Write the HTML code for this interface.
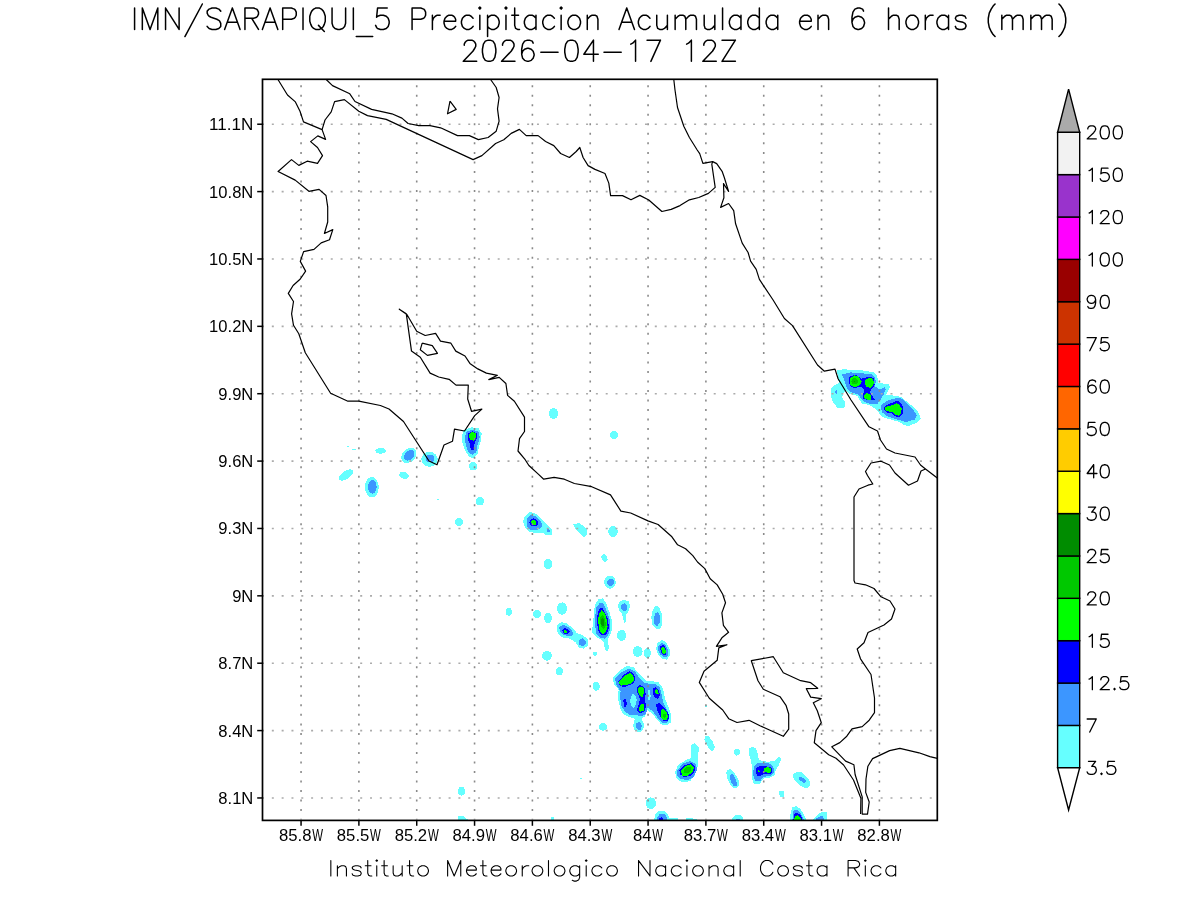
<!DOCTYPE html><html><head><meta charset="utf-8"><style>html,body{margin:0;padding:0;background:#fff;width:1200px;height:900px;overflow:hidden}svg{display:block;will-change:transform}</style></head><body>
<svg width="1200" height="900" viewBox="0 0 1200 900">
<rect width="1200" height="900" fill="#fff"/>
<defs><clipPath id="mc"><rect x="262.5" y="79.3" width="674.8" height="741.1"/></clipPath></defs>
<g clip-path="url(#mc)" shape-rendering="crispEdges">
<polygon fill="#66ffff" points="837.1,369.9 845.0,369.3 853.3,370.3 861.7,370.3 874.2,372.4 877.1,375.3 878.3,382.8 883.3,383.5 888.3,384.1 890.0,387.0 888.3,390.8 886.2,394.9 895.8,395.8 901.7,397.0 906.2,401.2 912.5,406.2 918.3,412.0 920.8,418.7 917.5,422.4 908.3,426.2 903.3,424.5 898.3,421.6 890.8,419.5 883.3,417.4 879.2,413.2 875.0,408.7 870.0,405.2 862.5,403.7 859.2,399.9 857.5,395.8 850.0,394.1 845.8,390.8 842.9,393.7 842.1,397.8 845.4,402.0 845.4,406.2 843.3,407.8 837.5,407.8 833.3,402.8 831.2,397.0 831.2,388.7 834.2,385.3 838.8,382.8 837.9,378.7"/>
<polygon fill="#3c96ff" points="842.1,374.5 850.0,372.4 858.3,372.8 871.7,374.5 875.0,377.4 875.8,382.0 875.0,386.2 880.0,389.5 885.0,387.0 885.8,389.5 883.3,395.3 880.0,400.3 877.5,403.7 871.7,404.5 864.2,402.0 860.4,397.8 858.3,394.5 850.0,392.0 846.7,387.8 844.2,380.3"/>
<polygon fill="#3c96ff" points="881.7,404.5 888.3,400.3 897.5,397.8 901.7,398.7 906.7,403.7 913.3,409.5 916.7,415.3 915.0,419.5 905.8,422.0 897.5,419.5 887.5,416.2 882.5,412.8 880.8,408.7"/>
<ellipse fill="#3c96ff" cx="836.2" cy="391.8" rx="0.8" ry="2.0"/>
<polygon fill="#0000ff" points="849.2,377.0 855.0,374.5 861.7,378.7 865.0,377.8 870.8,376.6 874.2,378.7 874.6,385.3 871.2,389.5 870.0,392.0 871.7,395.3 875.0,399.9 868.3,400.3 863.3,398.7 863.3,393.7 864.2,389.5 861.7,387.0 858.3,387.0 854.6,388.2 850.0,386.2 848.8,381.2"/>
<polygon fill="#0000ff" points="884.6,406.2 890.8,403.2 897.1,400.8 900.4,402.4 902.9,407.0 903.3,413.2 900.4,416.6 895.8,416.6 891.7,413.2 886.7,412.4 884.0,409.5"/>
<polygon fill="#00ff00" points="850.0,378.7 854.2,375.3 858.3,376.6 861.7,381.2 860.0,385.3 854.6,387.4 850.8,385.3 849.6,382.0"/>
<polygon fill="#00ff00" points="865.4,380.3 868.3,378.2 871.7,378.2 873.8,381.2 873.3,385.3 870.4,387.8 866.7,387.0 865.0,383.7"/>
<polygon fill="#00ff00" points="864.2,395.3 866.7,393.2 870.0,394.1 871.2,397.0 870.8,399.9 867.1,399.9 864.3,397.8"/>
<polygon fill="#00ff00" points="885.4,407.0 891.7,405.3 896.7,403.2 899.2,404.5 901.7,408.7 901.2,413.7 898.3,415.8 895.0,414.5 892.5,412.0 886.7,411.2 885.0,409.1"/>
<ellipse fill="#00cc00" cx="854.6" cy="381.3" rx="3.2" ry="3.0"/>
<ellipse fill="#009900" cx="854.3" cy="381.3" rx="0.8" ry="0.8"/>
<ellipse fill="#66ffff" cx="347.9" cy="446.2" rx="0.9" ry="0.5"/>
<ellipse fill="#66ffff" cx="354.0" cy="449.3" rx="2.0" ry="0.6"/>
<ellipse fill="#66ffff" cx="380.6" cy="450.8" rx="5.2" ry="2.9"/>
<ellipse fill="#66ffff" cx="408.9" cy="455.4" rx="8.6" ry="6.6" transform="rotate(-45 408.9 455.4)"/>
<ellipse fill="#3c96ff" cx="409.2" cy="455.2" rx="6.2" ry="4.3" transform="rotate(-45 409.2 455.2)"/>
<ellipse fill="#66ffff" cx="429.5" cy="459.3" rx="8.2" ry="7.4"/>
<ellipse fill="#3c96ff" cx="429.9" cy="458.6" rx="4.2" ry="3.9"/>
<ellipse fill="#66ffff" cx="346.0" cy="475.0" rx="8.2" ry="3.9" transform="rotate(-34 346.0 475.0)"/>
<ellipse fill="#66ffff" cx="371.9" cy="487.2" rx="6.9" ry="10.2"/>
<ellipse fill="#3c96ff" cx="372.4" cy="486.8" rx="4.25" ry="6.9"/>
<ellipse fill="#66ffff" cx="403.9" cy="475.4" rx="4.8" ry="3.3" transform="rotate(15 403.9 475.4)"/>
<ellipse fill="#66ffff" cx="404.0" cy="475.5" rx="1" ry="1"/>
<polygon fill="#66ffff" points="464.0,430.4 471.3,427.3 478.6,428.5 481.7,433.4 481.1,439.5 478.6,448.1 477.4,454.2 473.7,458.5 468.8,456.6 465.2,450.5 462.7,444.4 461.5,435.9"/>
<polygon fill="#3c96ff" points="466.4,431.6 472.5,429.8 478.6,431.6 479.8,437.1 477.4,445.6 476.2,452.4 472.5,454.8 468.8,453.0 466.4,446.9 464.6,438.3"/>
<polygon fill="#0000ff" points="468.2,433.4 472.5,431.2 476.8,433.4 476.8,438.3 474.3,444.4 473.7,449.9 470.7,449.9 470.1,444.4 467.6,439.5"/>
<polygon fill="#00ff00" points="468.8,434.0 472.5,431.8 475.9,433.4 476.2,437.1 473.7,441.0 470.3,439.5 468.6,437.1"/>
<ellipse fill="#66ffff" cx="473.1" cy="466.2" rx="4.3" ry="4.3"/>
<ellipse fill="#66ffff" cx="479.8" cy="501.2" rx="4.0" ry="4.2"/>
<ellipse fill="#66ffff" cx="458.8" cy="522.0" rx="4.0" ry="4.3"/>
<ellipse fill="#66ffff" cx="438.0" cy="499.4" rx="0.8" ry="0.5"/>
<ellipse fill="#66ffff" cx="553.5" cy="413.5" rx="4.5" ry="5.5"/>
<ellipse fill="#66ffff" cx="614.0" cy="435.0" rx="4.0" ry="4.0"/>
<polygon fill="#66ffff" points="525.0,516.0 530.0,512.0 536.0,514.0 541.0,518.5 545.0,523.0 550.0,527.0 552.5,531.0 551.5,535.0 547.0,535.5 542.0,532.5 535.0,533.0 530.0,532.0 525.0,528.0 523.0,521.0"/>
<polygon fill="#3c96ff" points="526.5,519.0 530.0,515.0 535.0,516.0 540.0,520.0 542.5,525.0 540.0,529.0 535.0,530.5 530.0,530.0 527.0,526.0"/>
<polygon fill="#3c96ff" points="546.5,529.0 548.5,528.5 550.0,531.5 546.5,531.8"/>
<polygon fill="#0000ff" points="530.0,520.0 533.5,518.0 537.0,520.0 538.5,523.5 536.0,526.0 533.0,526.5 530.5,525.0 529.5,522.5"/>
<polygon fill="#00ff00" points="531.0,521.0 533.5,519.5 536.0,521.0 536.2,524.0 534.5,525.5 532.0,524.5"/>
<polygon fill="#66ffff" points="573.5,524.5 579.0,523.0 584.0,526.0 587.0,530.0 586.5,535.0 584.0,537.0 579.0,533.0 575.0,528.0"/>
<ellipse fill="#66ffff" cx="613.0" cy="531.5" rx="4.7" ry="5.5"/>
<ellipse fill="#66ffff" cx="548.0" cy="564.0" rx="4.4" ry="5.0"/>
<ellipse fill="#66ffff" cx="604.5" cy="558.0" rx="2.8" ry="4.0" transform="rotate(-20 604.5 558.0)"/>
<ellipse fill="#66ffff" cx="610.0" cy="582.3" rx="5.8" ry="6.5"/>
<ellipse fill="#3c96ff" cx="610.6" cy="582.4" rx="3.5" ry="3.4"/>
<ellipse fill="#66ffff" cx="537.0" cy="613.9" rx="4.0" ry="4.0"/>
<ellipse fill="#66ffff" cx="548.0" cy="617.9" rx="4.0" ry="5.0"/>
<ellipse fill="#66ffff" cx="562.1" cy="608.6" rx="5.0" ry="6.2"/>
<polygon fill="#66ffff" points="557.4,624.7 561.5,622.3 566.2,622.9 572.0,627.6 576.7,632.8 583.7,635.8 588.3,639.8 588.3,645.7 583.7,648.6 579.0,647.4 575.5,642.2 569.7,638.7 562.7,637.5 558.0,634.0 556.6,628.8"/>
<polygon fill="#3c96ff" points="559.2,627.0 563.8,624.7 568.5,627.0 572.6,631.7 573.2,635.2 568.5,636.3 563.3,634.6 559.8,631.7"/>
<polygon fill="#3c96ff" points="579.0,639.8 582.5,638.1 585.4,640.4 586.0,643.9 583.1,646.3 579.6,645.1 578.8,642.2"/>
<polygon fill="#0000ff" points="562.1,629.9 564.4,627.9 567.3,628.8 569.7,631.7 567.3,634.6 563.8,634.0"/>
<polygon fill="#00ff00" points="563.8,630.5 565.6,629.6 567.6,631.7 565.6,633.4 564.1,632.3"/>
<polygon fill="#66ffff" points="594.8,604.8 598.8,599.0 602.9,598.4 605.8,602.5 609.3,611.8 611.7,620.0 612.3,628.2 610.5,634.0 608.2,638.7 607.6,642.2 609.3,648.0 607.0,652.1 604.7,649.2 604.1,642.2 601.2,639.8 595.3,636.3 591.8,631.7 593.0,623.5 593.9,614.2"/>
<polygon fill="#3c96ff" points="595.9,608.3 600.0,602.5 603.5,603.7 607.0,611.8 609.9,620.0 610.5,628.2 608.2,635.2 604.7,638.7 600.0,637.5 596.5,634.0 595.1,625.8 595.3,616.5"/>
<polygon fill="#0000ff" points="597.7,613.0 600.0,608.3 602.9,608.3 605.8,614.2 608.2,620.0 608.8,628.2 607.0,634.0 603.5,635.2 600.0,634.0 597.7,629.3 597.1,620.0"/>
<polygon fill="#00ff00" points="598.8,614.2 601.8,610.1 604.7,613.0 607.0,620.0 607.6,627.0 605.8,631.7 602.9,634.0 600.0,631.7 598.6,625.8 598.3,618.8"/>
<polygon fill="#00cc00" points="600.6,616.5 602.9,614.8 605.3,620.0 605.8,625.8 603.5,629.3 601.2,627.0 600.0,622.3"/>
<ellipse fill="#009900" cx="602.6" cy="622.3" rx="1.5" ry="4"/>
<polygon fill="#66ffff" points="618.7,602.5 623.3,599.9 628.6,601.3 630.3,606.6 628.0,611.8 625.7,615.3 626.3,621.2 624.5,622.9 623.3,620.0 622.2,614.2 619.8,611.3 618.1,607.2"/>
<polygon fill="#3c96ff" points="621.0,604.8 624.5,603.1 627.4,605.4 627.4,608.9 625.7,611.3 623.3,611.3 621.0,608.9"/>
<ellipse fill="#66ffff" cx="621.6" cy="635.4" rx="4.7" ry="5.4"/>
<polygon fill="#66ffff" points="653.7,608.3 656.0,605.4 659.5,607.8 661.8,614.2 662.4,623.5 660.1,628.8 656.6,628.8 652.5,624.7 651.3,617.7 651.9,611.8"/>
<polygon fill="#3c96ff" points="654.8,613.6 657.8,611.8 659.5,615.3 659.7,622.3 657.8,625.8 654.8,625.3 653.9,620.0"/>
<polygon fill="#66ffff" points="657.2,643.3 661.8,639.8 665.9,642.2 669.4,648.0 670.0,655.0 667.1,659.7 663.0,659.1 658.3,655.0 656.0,649.2"/>
<polygon fill="#3c96ff" points="658.3,645.7 661.8,642.8 665.3,644.5 668.3,650.3 667.7,656.2 664.2,657.3 660.1,654.4 657.8,649.8"/>
<polygon fill="#0000ff" points="660.1,646.8 662.4,644.7 665.3,646.8 666.5,651.5 665.3,655.6 663.0,655.0 660.7,651.5"/>
<polygon fill="#00ff00" points="661.3,648.6 663.0,646.8 665.3,648.6 665.9,652.7 664.2,654.4 661.8,652.7"/>
<ellipse fill="#66ffff" cx="637.6" cy="651.5" rx="5.0" ry="5.3"/>
<ellipse fill="#66ffff" cx="647.3" cy="653.0" rx="3.5" ry="5.0"/>
<ellipse fill="#66ffff" cx="547.0" cy="655.8" rx="4.8" ry="5.0"/>
<ellipse fill="#66ffff" cx="595.0" cy="653.8" rx="2.0" ry="2.0"/>
<polygon fill="#66ffff" points="612.5,677.5 620.0,670.0 627.5,665.6 633.8,667.5 640.0,675.0 646.2,681.2 652.5,681.2 658.8,682.5 663.1,688.8 665.0,698.8 668.8,707.5 671.2,715.0 670.6,722.5 666.2,725.6 661.2,724.4 657.5,720.0 652.5,713.8 647.5,710.0 645.0,716.2 641.2,718.8 644.4,725.0 643.1,730.0 638.8,732.5 634.4,730.0 633.1,725.0 635.0,718.8 628.8,716.9 623.1,713.8 620.0,707.5 617.5,696.2 618.8,690.0 613.8,683.8"/>
<polygon fill="#3c96ff" points="615.0,678.8 621.2,672.5 628.8,668.8 635.0,671.2 638.8,677.5 643.8,682.5 648.8,683.8 655.0,683.8 660.0,687.5 661.9,696.2 663.8,703.8 667.5,711.2 669.4,717.5 667.5,722.5 662.5,723.1 657.5,717.5 652.5,711.2 647.5,707.5 646.2,713.8 641.2,716.2 636.2,715.0 630.0,715.0 624.4,711.2 621.2,705.0 620.0,696.2 620.6,691.2 616.2,685.0"/>
<polygon fill="#66ffff" points="632.5,693.8 635.0,695.0 636.9,700.0 635.6,705.0 633.8,708.8 631.2,706.2 630.0,700.0"/>
<polygon fill="#66ffff" points="647.8,690.6 650.0,690.0 650.6,696.2 650.0,700.6 647.8,700.0"/>
<polygon fill="#3c96ff" points="636.2,723.1 639.4,721.9 641.9,725.0 641.2,729.4 638.1,730.0 636.2,727.5"/>
<polygon fill="#0000ff" points="618.1,681.2 625.0,673.8 630.0,671.2 633.8,673.8 635.6,680.0 632.5,683.8 625.0,686.9 620.0,686.2"/>
<polygon fill="#0000ff" points="636.9,687.5 640.0,685.0 644.4,686.9 645.6,693.8 645.0,700.0 646.0,706.2 644.4,711.9 640.0,713.1 636.9,710.0 638.8,703.8 640.0,698.8 637.5,692.5"/>
<polygon fill="#0000ff" points="653.1,688.8 655.6,686.9 658.8,690.0 660.0,695.0 658.1,698.8 655.0,698.1 653.1,693.8"/>
<polygon fill="#0000ff" points="656.2,703.8 659.4,703.1 663.8,707.5 668.1,712.5 669.4,717.5 667.5,721.2 663.8,721.2 660.0,716.2 656.9,710.0"/>
<polygon fill="#0000ff" points="623.1,700.0 625.0,698.1 626.9,702.5 626.2,707.5 624.4,706.9"/>
<polygon fill="#00ff00" points="619.4,681.2 625.0,675.6 630.0,673.1 633.1,675.0 634.4,680.0 631.9,683.1 626.2,685.0 621.2,685.6 619.0,683.8"/>
<polygon fill="#00ff00" points="638.1,688.1 641.0,686.2 643.5,688.1 644.0,692.5 642.5,696.9 640.0,696.2 638.5,692.5"/>
<polygon fill="#00ff00" points="638.8,710.0 640.0,705.6 643.1,703.1 644.4,706.2 643.5,710.6 640.6,711.9"/>
<polygon fill="#00ff00" points="654.8,690.6 656.2,688.8 658.1,691.2 658.8,693.8 656.9,694.4 655.0,693.1"/>
<polygon fill="#00ff00" points="660.6,710.0 663.8,708.8 666.9,712.5 668.1,717.5 666.2,720.6 663.1,720.0 660.6,716.2"/>
<ellipse fill="#00cc00" cx="664.4" cy="715.6" rx="1.5" ry="2.0"/>
<ellipse fill="#66ffff" cx="559.4" cy="671.2" rx="3.5" ry="4.0"/>
<ellipse fill="#66ffff" cx="596.2" cy="686.2" rx="3.5" ry="4.5"/>
<ellipse fill="#66ffff" cx="603.1" cy="726.9" rx="4.0" ry="3.8"/>
<polygon fill="#66ffff" points="691.2,745.0 695.0,743.1 698.8,747.5 698.1,758.8 697.5,767.5 695.0,775.0 690.0,781.2 682.5,782.5 676.9,778.8 675.0,772.5 678.1,765.0 685.0,760.6 690.6,758.1 690.6,750.0"/>
<polygon fill="#3c96ff" points="677.5,770.0 682.5,763.8 690.0,761.2 696.2,763.8 696.9,770.0 693.8,776.9 687.5,780.0 680.0,778.8 676.9,775.0"/>
<polygon fill="#0000ff" points="679.4,770.0 685.0,765.0 691.2,763.1 695.0,766.2 694.4,772.5 690.0,776.2 683.8,776.9 680.0,774.4"/>
<polygon fill="#00ff00" points="680.6,770.6 685.6,766.2 690.6,764.4 693.8,767.5 692.5,772.5 687.5,775.6 682.5,775.6"/>
<ellipse fill="#00cc00" cx="687.5" cy="770.0" rx="4.0" ry="2.8" transform="rotate(-35 687.5 770.0)"/>
<polygon fill="#66ffff" points="705.0,735.6 708.1,735.6 712.5,741.2 715.0,747.5 712.5,751.2 709.4,749.4 704.4,740.0"/>
<ellipse fill="#66ffff" cx="736.9" cy="752.2" rx="3.0" ry="3.4"/>
<polygon fill="#66ffff" points="727.5,770.0 730.0,768.8 735.0,773.8 738.8,780.0 738.8,786.2 735.0,788.8 731.2,786.2 727.5,778.8 726.2,772.5"/>
<polygon fill="#3c96ff" points="730.0,775.0 732.5,773.8 736.2,780.0 736.9,785.6 733.8,786.2 730.6,781.2"/>
<polygon fill="#66ffff" points="748.8,748.8 752.5,746.5 756.2,748.8 758.1,755.0 758.8,760.0 767.5,761.9 775.0,760.6 778.8,756.9 781.2,758.8 778.8,765.0 775.6,771.2 774.4,775.0 770.0,777.5 765.0,777.5 762.5,780.0 760.0,783.8 753.8,783.8 751.9,777.5 751.9,767.5 751.2,761.2 748.8,753.8"/>
<polygon fill="#3c96ff" points="753.8,766.2 757.5,763.1 768.8,763.1 773.1,766.2 774.4,771.9 770.6,775.6 763.8,776.9 760.0,781.2 755.6,781.2 753.1,775.0"/>
<polygon fill="#0000ff" points="755.6,768.1 760.0,766.2 766.2,766.2 771.2,767.5 772.5,771.2 770.6,773.8 763.8,773.8 760.0,776.2 757.5,776.2 756.0,772.5"/>
<polygon fill="#00ff00" points="763.8,768.1 767.5,766.9 771.0,768.1 771.5,771.9 768.8,773.1 764.4,771.9"/>
<ellipse fill="#00ff00" cx="758.8" cy="771.2" rx="1.0" ry="0.8"/>
<ellipse fill="#66ffff" cx="706.2" cy="706.4" rx="1.3" ry="1.0"/>
<polygon fill="#66ffff" points="793.4,773.8 796.2,772.1 801.7,772.1 807.2,777.2 809.6,780.7 810.0,785.5 807.6,787.6 804.5,787.9 800.3,785.5 793.8,779.3 793.1,776.5"/>
<polygon fill="#3c96ff" points="798.3,777.6 801.0,776.9 804.5,778.6 805.8,780.7 805.1,783.4 803.1,782.7 798.9,779.3"/>
<polygon fill="#66ffff" points="779.3,791.4 783.8,791.0 784.5,793.8 783.8,796.9 780.3,796.9 779.0,794.5"/>
<polygon fill="#66ffff" points="792.1,807.6 796.2,806.2 799.6,808.2 803.1,813.1 806.5,820.0 790.0,820.0 790.7,812.4"/>
<polygon fill="#3c96ff" points="793.4,811.0 796.2,809.3 800.3,812.4 803.8,820.0 792.4,820.0"/>
<polygon fill="#0000ff" points="794.8,813.1 797.6,812.7 801.0,815.8 802.4,820.0 793.4,820.0 794.1,815.1"/>
<polygon fill="#00ff00" points="794.8,816.5 797.6,815.1 800.3,817.2 801.7,820.0 793.8,820.0"/>
<polygon fill="#66ffff" points="814.1,817.9 818.2,814.4 821.0,812.4 826.9,812.0 826.9,820.0 813.1,820.0"/>
<polygon fill="#3c96ff" points="816.2,818.6 819.6,816.5 822.4,816.2 824.4,820.0 815.8,820.0"/>
<ellipse fill="#66ffff" cx="650.8" cy="803.2" rx="5.25" ry="5.75"/>
<polygon fill="#66ffff" points="655.0,815.0 658.5,811.0 664.0,810.5 667.5,814.0 669.5,818.0 678.0,817.5 678.0,821.0 654.0,821.0"/>
<polygon fill="#3c96ff" points="657.0,817.5 660.0,813.5 664.5,813.5 666.5,817.0 667.0,821.0 656.5,821.0"/>
<polygon fill="#0000ff" points="659.5,818.5 661.5,817.0 663.0,818.5 663.5,821.0 659.0,821.0"/>
<polygon fill="#66ffff" points="685.0,821.0 687.0,817.5 690.0,817.8 697.0,819.5 697.0,821.0"/>
<polygon fill="#66ffff" points="732.0,819.0 736.0,814.5 740.0,814.5 743.0,818.0 743.0,821.0 731.5,821.0"/>
<polygon fill="#3c96ff" points="736.0,818.5 740.0,818.5 740.0,821.0 736.0,821.0"/>
<ellipse fill="#66ffff" cx="461.5" cy="791.2" rx="3.75" ry="4.5"/>
<polygon fill="#66ffff" points="458.0,815.7 462.5,815.7 467.7,819.5 467.7,821.0 458.0,821.0"/>
<polygon fill="#66ffff" points="551.0,816.8 554.0,816.8 554.0,821.0 551.0,821.0"/>
<ellipse fill="#66ffff" cx="581.0" cy="778.5" rx="1.2" ry="0.6"/>
<ellipse fill="#66ffff" cx="508.9" cy="611.9" rx="3.0" ry="3.9"/>
</g>
<g stroke-width="1.6" fill="none">
<line x1="301.06" y1="85.2" x2="301.06" y2="819.4" stroke-dasharray="2 7.525" stroke="#8a8a8a"/>
<line x1="358.89" y1="85.2" x2="358.89" y2="819.4" stroke-dasharray="2 7.525" stroke="#8a8a8a"/>
<line x1="416.72" y1="85.2" x2="416.72" y2="819.4" stroke-dasharray="2 7.525" stroke="#8a8a8a"/>
<line x1="474.56" y1="85.2" x2="474.56" y2="819.4" stroke-dasharray="2 7.525" stroke="#8a8a8a"/>
<line x1="532.39" y1="85.2" x2="532.39" y2="819.4" stroke-dasharray="2 7.525" stroke="#8a8a8a"/>
<line x1="590.23" y1="85.2" x2="590.23" y2="819.4" stroke-dasharray="2 7.525" stroke="#8a8a8a"/>
<line x1="648.06" y1="85.2" x2="648.06" y2="819.4" stroke-dasharray="2 7.525" stroke="#8a8a8a"/>
<line x1="705.89" y1="85.2" x2="705.89" y2="819.4" stroke-dasharray="2 7.525" stroke="#8a8a8a"/>
<line x1="763.73" y1="85.2" x2="763.73" y2="819.4" stroke-dasharray="2 7.525" stroke="#8a8a8a"/>
<line x1="821.56" y1="85.2" x2="821.56" y2="819.4" stroke-dasharray="2 7.525" stroke="#8a8a8a"/>
<line x1="879.40" y1="85.2" x2="879.40" y2="819.4" stroke-dasharray="2 7.525" stroke="#8a8a8a"/>
<line x1="262" y1="797.96" x2="936.3" y2="797.96" stroke-dasharray="2 7.82" stroke="#ababab"/>
<line x1="262" y1="730.58" x2="936.3" y2="730.58" stroke-dasharray="2 7.82" stroke="#ababab"/>
<line x1="262" y1="663.21" x2="936.3" y2="663.21" stroke-dasharray="2 7.82" stroke="#ababab"/>
<line x1="262" y1="595.83" x2="936.3" y2="595.83" stroke-dasharray="2 7.82" stroke="#ababab"/>
<line x1="262" y1="528.46" x2="936.3" y2="528.46" stroke-dasharray="2 7.82" stroke="#ababab"/>
<line x1="262" y1="461.09" x2="936.3" y2="461.09" stroke-dasharray="2 7.82" stroke="#ababab"/>
<line x1="262" y1="393.71" x2="936.3" y2="393.71" stroke-dasharray="2 7.82" stroke="#ababab"/>
<line x1="262" y1="326.34" x2="936.3" y2="326.34" stroke-dasharray="2 7.82" stroke="#ababab"/>
<line x1="262" y1="258.96" x2="936.3" y2="258.96" stroke-dasharray="2 7.82" stroke="#ababab"/>
<line x1="262" y1="191.59" x2="936.3" y2="191.59" stroke-dasharray="2 7.82" stroke="#ababab"/>
<line x1="262" y1="124.22" x2="936.3" y2="124.22" stroke-dasharray="2 7.82" stroke="#ababab"/>
</g>
<g stroke="#000" stroke-width="1.2" fill="none" stroke-linejoin="round" clip-path="url(#mc)">
<polyline points="278.1,79.8 287.5,95.0 295.4,101.9 300.0,111.2 303.5,121.9 322.1,129.6 325.6,139.4 317.8,135.9 310.6,141.6 317.5,147.5 322.5,155.6 317.5,163.4 307.2,161.2 298.8,165.4 291.5,159.6 278.1,171.5 295.2,180.1 308.9,191.3 319.1,189.4 326.0,195.5 327.7,206.8 327.7,222.0 324.4,233.5 332.8,229.6 329.5,239.7 321.2,242.9 314.0,249.4 303.6,251.6 300.3,261.4 305.6,271.1 300.3,279.0 293.1,285.5 288.3,293.4 293.5,301.5 291.6,313.8 293.5,325.3 298.8,333.7 305.3,352.8 330.6,393.2 347.9,401.2 358.8,401.2 380.4,405.5 389.0,409.0 403.5,421.5 429.0,461.0 437.0,464.8 444.0,445.0 452.5,441.2 454.5,429.2 464.5,431.0 474.7,415.6 481.9,409.1 471.5,411.3 467.7,399.0 468.3,385.1 456.0,385.1 449.1,379.3 438.7,377.0 430.1,373.1 420.3,357.2 411.5,351.1 406.3,313.8 399.3,309.2 406.9,314.5 416.7,331.3 425.2,335.5 435.6,333.4 440.5,341.1 450.9,343.2 455.8,351.1 465.0,356.0 469.9,363.4 477.8,368.9 486.4,373.1 497.4,375.3 488.8,379.6 499.2,377.4 505.9,383.5 507.6,395.4 514.4,401.2 524.5,417.1 524.5,431.5 519.5,438.7 518.0,451.0 525.2,459.7 528.9,465.5 538.3,474.1 543.7,479.2 554.1,477.3 564.3,479.2 574.4,483.5 591.7,486.7 610.5,494.9 620.9,511.1 630.7,513.0 648.0,520.9 658.1,524.5 671.9,536.8 677.6,544.8 685.6,548.7 692.8,555.6 697.5,562.0 704.8,568.6 710.2,578.7 717.2,584.9 722.7,594.2 725.5,602.8 721.9,612.9 723.4,625.3 728.6,632.3 721.9,637.8 716.4,646.3 727.0,644.8 718.8,647.9 717.2,660.3 704.0,671.2 699.3,682.4 709.3,698.3 722.7,710.0 728.7,718.7 737.0,722.5 749.0,720.3 760.0,725.7 783.3,736.3 788.7,729.1 788.7,714.0 786.0,705.3 780.0,696.7 763.3,689.3 758.0,680.7 751.3,660.7 773.3,656.7 783.3,672.7 800.7,680.7 810.7,682.7 817.7,688.3 806.3,688.7 810.7,697.1 821.3,698.7 813.3,702.7 817.3,710.7 821.3,722.7 816.0,730.7 814.3,742.7 828.7,754.7 836.0,758.3 843.6,765.0 853.5,780.0 860.9,798.2 860.6,814.1"/>
<polyline points="322.1,129.6 325.0,120.0 331.2,111.9 334.6,101.6 344.4,99.6 358.8,111.2 367.5,115.6 386.2,119.4 473.1,159.6 481.9,155.6 495.6,143.5 503.8,139.8 511.2,133.4 519.4,129.4 526.2,135.6 538.1,135.6 545.6,141.5 553.8,145.6 560.6,153.5 569.4,157.5 576.2,151.5 579.8,147.5 583.1,157.5 588.1,165.6 595.0,169.4 605.0,173.5 608.8,183.1 610.6,195.6 622.5,195.6 631.0,199.8 639.8,195.4 648.8,200.0 661.9,211.5 671.2,209.4 680.0,205.6 689.4,199.8 698.8,197.5 708.4,193.4 715.2,187.4 711.8,164.1 712.7,161.6"/>
<polyline points="326.2,79.5 332.5,85.6 349.8,93.8 355.0,101.5 371.6,109.4 391.9,113.8 401.9,118.1 408.1,123.5 418.8,125.6 430.0,125.6 440.6,127.8 457.5,135.6 469.4,135.6 478.4,139.6 488.1,137.5 496.2,131.2 499.1,121.2 497.5,108.8 499.1,97.5 496.2,87.5 490.6,79.5"/>
<polyline points="450.0,101.2 456.2,109.4 447.5,113.8 450.0,101.2"/>
<polyline points="422.2,343.2 432.3,345.6 437.5,353.3 427.4,355.4 420.3,349.7 422.2,343.2"/>
<polyline points="673.8,79.5 675.0,90.0 677.5,107.5 683.8,126.2 689.4,137.5 697.2,150.0 699.7,153.6 702.9,163.4 712.7,161.6 716.7,163.6 722.1,171.3 724.3,177.5 728.6,191.5 723.5,183.6 723.9,197.7 720.6,207.4 728.6,203.5 733.7,210.7 735.6,223.8 742.2,243.1 748.1,252.5 750.6,261.2 756.2,269.4 759.4,279.4 773.1,300.0 784.4,318.5 792.5,325.6 817.5,365.0 824.4,371.2 835.0,369.1 838.1,378.8 851.0,400.0 869.0,426.8 877.5,431.0 880.5,440.0 886.5,449.0 895.0,453.0 915.0,457.0 920.5,465.0 925.5,469.0 937.3,478.0"/>
<polyline points="925.5,469.0 921.0,471.0 917.5,481.0 908.5,485.2 895.0,473.0 889.5,465.0 881.0,461.2 871.0,463.0 865.5,471.5 867.5,475.5 872.8,484.0 868.0,485.2 859.0,489.0 854.0,497.0 854.0,580.5 855.0,583.0 865.5,584.8 874.0,588.5 881.0,596.8 890.0,601.0 895.0,609.0 891.5,619.0 884.0,625.0 868.0,632.5 864.0,642.8 857.2,649.0 860.5,658.8 871.0,674.5 874.5,698.0 874.5,712.6 869.2,720.2 862.2,726.6 852.0,728.9 846.8,736.2 839.8,742.6 831.8,746.8 845.6,761.1 853.9,764.7 855.1,774.5 862.2,796.9 862.2,814.1 867.5,814.1 869.2,802.0 865.7,792.4 866.0,779.0 867.9,766.2 872.6,758.6 889.6,750.6 899.9,748.3 919.0,752.8 929.9,756.6 937.3,758.3"/>
</g>
<rect x="262.5" y="79.3" width="674.8" height="741.1" fill="none" stroke="#000" stroke-width="1.7"/>
<g stroke="#000" stroke-width="1.5">
<line x1="301.06" y1="820.4" x2="301.06" y2="825.8"/>
<line x1="257.2" y1="797.96" x2="262.5" y2="797.96"/>
<line x1="358.89" y1="820.4" x2="358.89" y2="825.8"/>
<line x1="257.2" y1="730.58" x2="262.5" y2="730.58"/>
<line x1="416.72" y1="820.4" x2="416.72" y2="825.8"/>
<line x1="257.2" y1="663.21" x2="262.5" y2="663.21"/>
<line x1="474.56" y1="820.4" x2="474.56" y2="825.8"/>
<line x1="257.2" y1="595.83" x2="262.5" y2="595.83"/>
<line x1="532.39" y1="820.4" x2="532.39" y2="825.8"/>
<line x1="257.2" y1="528.46" x2="262.5" y2="528.46"/>
<line x1="590.23" y1="820.4" x2="590.23" y2="825.8"/>
<line x1="257.2" y1="461.09" x2="262.5" y2="461.09"/>
<line x1="648.06" y1="820.4" x2="648.06" y2="825.8"/>
<line x1="257.2" y1="393.71" x2="262.5" y2="393.71"/>
<line x1="705.89" y1="820.4" x2="705.89" y2="825.8"/>
<line x1="257.2" y1="326.34" x2="262.5" y2="326.34"/>
<line x1="763.73" y1="820.4" x2="763.73" y2="825.8"/>
<line x1="257.2" y1="258.96" x2="262.5" y2="258.96"/>
<line x1="821.56" y1="820.4" x2="821.56" y2="825.8"/>
<line x1="257.2" y1="191.59" x2="262.5" y2="191.59"/>
<line x1="879.40" y1="820.4" x2="879.40" y2="825.8"/>
<line x1="257.2" y1="124.22" x2="262.5" y2="124.22"/>
</g>
<g font-family='"Liberation Sans", sans-serif'>
<text x="218.34" y="803.96" font-size="17.00" textLength="35.01" lengthAdjust="spacingAndGlyphs" fill="#000">8.1N</text>
<text x="218.34" y="736.58" font-size="17.00" textLength="35.01" lengthAdjust="spacingAndGlyphs" fill="#000">8.4N</text>
<text x="218.34" y="669.21" font-size="17.00" textLength="35.01" lengthAdjust="spacingAndGlyphs" fill="#000">8.7N</text>
<text x="232.16" y="601.83" font-size="17.00" textLength="21.19" lengthAdjust="spacingAndGlyphs" fill="#000">9N</text>
<text x="218.34" y="534.46" font-size="17.00" textLength="35.01" lengthAdjust="spacingAndGlyphs" fill="#000">9.3N</text>
<text x="218.34" y="467.09" font-size="17.00" textLength="35.01" lengthAdjust="spacingAndGlyphs" fill="#000">9.6N</text>
<text x="218.34" y="399.71" font-size="17.00" textLength="35.01" lengthAdjust="spacingAndGlyphs" fill="#000">9.9N</text>
<text x="209.12" y="332.34" font-size="17.00" textLength="44.23" lengthAdjust="spacingAndGlyphs" fill="#000">10.2N</text>
<text x="209.12" y="264.96" font-size="17.00" textLength="44.23" lengthAdjust="spacingAndGlyphs" fill="#000">10.5N</text>
<text x="209.12" y="197.59" font-size="17.00" textLength="44.23" lengthAdjust="spacingAndGlyphs" fill="#000">10.8N</text>
<text x="209.12" y="130.22" font-size="17.00" textLength="44.23" lengthAdjust="spacingAndGlyphs" fill="#000">11.1N</text>
<text x="278.99" y="840.90" font-size="17.40" textLength="32.51" lengthAdjust="spacingAndGlyphs" fill="#000">85.8</text>
<text x="312.25" y="840.90" font-size="17.40" textLength="10.79" lengthAdjust="spacingAndGlyphs" fill="#000">W</text>
<text x="336.82" y="840.90" font-size="17.40" textLength="32.51" lengthAdjust="spacingAndGlyphs" fill="#000">85.5</text>
<text x="370.08" y="840.90" font-size="17.40" textLength="10.79" lengthAdjust="spacingAndGlyphs" fill="#000">W</text>
<text x="394.66" y="840.90" font-size="17.40" textLength="32.51" lengthAdjust="spacingAndGlyphs" fill="#000">85.2</text>
<text x="427.92" y="840.90" font-size="17.40" textLength="10.79" lengthAdjust="spacingAndGlyphs" fill="#000">W</text>
<text x="452.49" y="840.90" font-size="17.40" textLength="32.51" lengthAdjust="spacingAndGlyphs" fill="#000">84.9</text>
<text x="485.75" y="840.90" font-size="17.40" textLength="10.79" lengthAdjust="spacingAndGlyphs" fill="#000">W</text>
<text x="510.32" y="840.90" font-size="17.40" textLength="32.51" lengthAdjust="spacingAndGlyphs" fill="#000">84.6</text>
<text x="543.58" y="840.90" font-size="17.40" textLength="10.79" lengthAdjust="spacingAndGlyphs" fill="#000">W</text>
<text x="568.16" y="840.90" font-size="17.40" textLength="32.51" lengthAdjust="spacingAndGlyphs" fill="#000">84.3</text>
<text x="601.42" y="840.90" font-size="17.40" textLength="10.79" lengthAdjust="spacingAndGlyphs" fill="#000">W</text>
<text x="632.96" y="840.90" font-size="17.40" textLength="18.58" lengthAdjust="spacingAndGlyphs" fill="#000">84</text>
<text x="652.29" y="840.90" font-size="17.40" textLength="10.79" lengthAdjust="spacingAndGlyphs" fill="#000">W</text>
<text x="683.83" y="840.90" font-size="17.40" textLength="32.51" lengthAdjust="spacingAndGlyphs" fill="#000">83.7</text>
<text x="717.09" y="840.90" font-size="17.40" textLength="10.79" lengthAdjust="spacingAndGlyphs" fill="#000">W</text>
<text x="741.66" y="840.90" font-size="17.40" textLength="32.51" lengthAdjust="spacingAndGlyphs" fill="#000">83.4</text>
<text x="774.92" y="840.90" font-size="17.40" textLength="10.79" lengthAdjust="spacingAndGlyphs" fill="#000">W</text>
<text x="799.49" y="840.90" font-size="17.40" textLength="32.51" lengthAdjust="spacingAndGlyphs" fill="#000">83.1</text>
<text x="832.75" y="840.90" font-size="17.40" textLength="10.79" lengthAdjust="spacingAndGlyphs" fill="#000">W</text>
<text x="857.33" y="840.90" font-size="17.40" textLength="32.51" lengthAdjust="spacingAndGlyphs" fill="#000">82.8</text>
<text x="890.59" y="840.90" font-size="17.40" textLength="10.79" lengthAdjust="spacingAndGlyphs" fill="#000">W</text>
</g>
<rect x="1057.6" y="725.43" width="22.1" height="42.37" fill="#66ffff" stroke="#000" stroke-width="1.4"/>
<rect x="1057.6" y="683.06" width="22.1" height="42.37" fill="#3c96ff" stroke="#000" stroke-width="1.4"/>
<rect x="1057.6" y="640.69" width="22.1" height="42.37" fill="#0000ff" stroke="#000" stroke-width="1.4"/>
<rect x="1057.6" y="598.32" width="22.1" height="42.37" fill="#00ff00" stroke="#000" stroke-width="1.4"/>
<rect x="1057.6" y="555.95" width="22.1" height="42.37" fill="#00c800" stroke="#000" stroke-width="1.4"/>
<rect x="1057.6" y="513.58" width="22.1" height="42.37" fill="#008c00" stroke="#000" stroke-width="1.4"/>
<rect x="1057.6" y="471.21" width="22.1" height="42.37" fill="#ffff00" stroke="#000" stroke-width="1.4"/>
<rect x="1057.6" y="428.84" width="22.1" height="42.37" fill="#ffcc00" stroke="#000" stroke-width="1.4"/>
<rect x="1057.6" y="386.47" width="22.1" height="42.37" fill="#ff6600" stroke="#000" stroke-width="1.4"/>
<rect x="1057.6" y="344.10" width="22.1" height="42.37" fill="#ff0000" stroke="#000" stroke-width="1.4"/>
<rect x="1057.6" y="301.73" width="22.1" height="42.37" fill="#cc3300" stroke="#000" stroke-width="1.4"/>
<rect x="1057.6" y="259.36" width="22.1" height="42.37" fill="#990000" stroke="#000" stroke-width="1.4"/>
<rect x="1057.6" y="216.99" width="22.1" height="42.37" fill="#ff00ff" stroke="#000" stroke-width="1.4"/>
<rect x="1057.6" y="174.62" width="22.1" height="42.37" fill="#9933cc" stroke="#000" stroke-width="1.4"/>
<rect x="1057.6" y="132.25" width="22.1" height="42.37" fill="#f2f2f2" stroke="#000" stroke-width="1.4"/>
<polygon points="1057.6,132.25 1079.7,132.25 1068.6,89.2" fill="#aaaaaa" stroke="#000" stroke-width="1.4" stroke-linejoin="miter"/>
<polygon points="1057.6,767.8 1079.7,767.8 1068.6,810" fill="#fff" stroke="#000" stroke-width="1.4"/>
<path d="M1088.46 761.35 L1095.63 761.35 L1091.72 766.34 L1093.68 766.34 L1094.98 766.96 L1095.63 767.59 L1096.28 769.46 L1096.28 770.71 L1095.63 772.58 L1094.33 773.83 L1092.37 774.45 L1090.42 774.45 L1088.46 773.83 L1087.81 773.20 L1087.16 771.95M1101.50 773.20 L1100.85 773.83 L1101.50 774.45 L1102.15 773.83 L1101.50 773.20M1114.54 761.35 L1108.02 761.35 L1107.37 766.96 L1108.02 766.34 L1109.98 765.72 L1111.93 765.72 L1113.89 766.34 L1115.19 767.59 L1115.84 769.46 L1115.84 770.71 L1115.19 772.58 L1113.89 773.83 L1111.93 774.45 L1109.98 774.45 L1108.02 773.83 L1107.37 773.20 L1106.72 771.95" fill="none" stroke="#000" stroke-width="1.3" stroke-linecap="round" stroke-linejoin="round"/>
<path d="M1096.28 718.98 L1089.76 732.08M1087.16 718.98 L1096.28 718.98" fill="none" stroke="#000" stroke-width="1.3" stroke-linecap="round" stroke-linejoin="round"/>
<path d="M1089.11 679.11 L1090.42 678.48 L1092.37 676.61 L1092.37 689.71M1100.85 679.73 L1100.85 679.11 L1101.50 677.86 L1102.15 677.23 L1103.46 676.61 L1106.06 676.61 L1107.37 677.23 L1108.02 677.86 L1108.67 679.11 L1108.67 680.35 L1108.02 681.60 L1106.72 683.47 L1100.20 689.71 L1109.32 689.71M1114.54 688.46 L1113.89 689.09 L1114.54 689.71 L1115.19 689.09 L1114.54 688.46M1127.58 676.61 L1121.06 676.61 L1120.41 682.22 L1121.06 681.60 L1123.02 680.98 L1124.97 680.98 L1126.93 681.60 L1128.23 682.85 L1128.88 684.72 L1128.88 685.97 L1128.23 687.84 L1126.93 689.09 L1124.97 689.71 L1123.02 689.71 L1121.06 689.09 L1120.41 688.46 L1119.76 687.21" fill="none" stroke="#000" stroke-width="1.3" stroke-linecap="round" stroke-linejoin="round"/>
<path d="M1089.11 636.74 L1090.42 636.11 L1092.37 634.24 L1092.37 647.34M1108.02 634.24 L1101.50 634.24 L1100.85 639.85 L1101.50 639.23 L1103.46 638.61 L1105.41 638.61 L1107.37 639.23 L1108.67 640.48 L1109.32 642.35 L1109.32 643.60 L1108.67 645.47 L1107.37 646.72 L1105.41 647.34 L1103.46 647.34 L1101.50 646.72 L1100.85 646.09 L1100.20 644.84" fill="none" stroke="#000" stroke-width="1.3" stroke-linecap="round" stroke-linejoin="round"/>
<path d="M1087.81 594.99 L1087.81 594.37 L1088.46 593.12 L1089.11 592.49 L1090.42 591.87 L1093.02 591.87 L1094.33 592.49 L1094.98 593.12 L1095.63 594.37 L1095.63 595.61 L1094.98 596.86 L1093.68 598.73 L1087.16 604.97 L1096.28 604.97M1104.11 591.87 L1102.15 592.49 L1100.85 594.37 L1100.20 597.48 L1100.20 599.36 L1100.85 602.47 L1102.15 604.35 L1104.11 604.97 L1105.41 604.97 L1107.37 604.35 L1108.67 602.47 L1109.32 599.36 L1109.32 597.48 L1108.67 594.37 L1107.37 592.49 L1105.41 591.87 L1104.11 591.87" fill="none" stroke="#000" stroke-width="1.3" stroke-linecap="round" stroke-linejoin="round"/>
<path d="M1087.81 552.62 L1087.81 552.00 L1088.46 550.75 L1089.11 550.12 L1090.42 549.50 L1093.02 549.50 L1094.33 550.12 L1094.98 550.75 L1095.63 552.00 L1095.63 553.24 L1094.98 554.49 L1093.68 556.36 L1087.16 562.60 L1096.28 562.60M1108.02 549.50 L1101.50 549.50 L1100.85 555.11 L1101.50 554.49 L1103.46 553.87 L1105.41 553.87 L1107.37 554.49 L1108.67 555.74 L1109.32 557.61 L1109.32 558.86 L1108.67 560.73 L1107.37 561.98 L1105.41 562.60 L1103.46 562.60 L1101.50 561.98 L1100.85 561.35 L1100.20 560.10" fill="none" stroke="#000" stroke-width="1.3" stroke-linecap="round" stroke-linejoin="round"/>
<path d="M1088.46 507.13 L1095.63 507.13 L1091.72 512.12 L1093.68 512.12 L1094.98 512.74 L1095.63 513.37 L1096.28 515.24 L1096.28 516.49 L1095.63 518.36 L1094.33 519.61 L1092.37 520.23 L1090.42 520.23 L1088.46 519.61 L1087.81 518.98 L1087.16 517.73M1104.11 507.13 L1102.15 507.75 L1100.85 509.63 L1100.20 512.74 L1100.20 514.62 L1100.85 517.73 L1102.15 519.61 L1104.11 520.23 L1105.41 520.23 L1107.37 519.61 L1108.67 517.73 L1109.32 514.62 L1109.32 512.74 L1108.67 509.63 L1107.37 507.75 L1105.41 507.13 L1104.11 507.13" fill="none" stroke="#000" stroke-width="1.3" stroke-linecap="round" stroke-linejoin="round"/>
<path d="M1093.68 464.76 L1087.16 473.49 L1096.94 473.49M1093.68 464.76 L1093.68 477.86M1104.11 464.76 L1102.15 465.38 L1100.85 467.26 L1100.20 470.37 L1100.20 472.25 L1100.85 475.36 L1102.15 477.24 L1104.11 477.86 L1105.41 477.86 L1107.37 477.24 L1108.67 475.36 L1109.32 472.25 L1109.32 470.37 L1108.67 467.26 L1107.37 465.38 L1105.41 464.76 L1104.11 464.76" fill="none" stroke="#000" stroke-width="1.3" stroke-linecap="round" stroke-linejoin="round"/>
<path d="M1094.98 422.39 L1088.46 422.39 L1087.81 428.00 L1088.46 427.38 L1090.42 426.76 L1092.37 426.76 L1094.33 427.38 L1095.63 428.63 L1096.28 430.50 L1096.28 431.75 L1095.63 433.62 L1094.33 434.87 L1092.37 435.49 L1090.42 435.49 L1088.46 434.87 L1087.81 434.24 L1087.16 432.99M1104.11 422.39 L1102.15 423.01 L1100.85 424.89 L1100.20 428.00 L1100.20 429.88 L1100.85 432.99 L1102.15 434.87 L1104.11 435.49 L1105.41 435.49 L1107.37 434.87 L1108.67 432.99 L1109.32 429.88 L1109.32 428.00 L1108.67 424.89 L1107.37 423.01 L1105.41 422.39 L1104.11 422.39" fill="none" stroke="#000" stroke-width="1.3" stroke-linecap="round" stroke-linejoin="round"/>
<path d="M1095.63 381.89 L1094.98 380.64 L1093.02 380.02 L1091.72 380.02 L1089.76 380.64 L1088.46 382.52 L1087.81 385.63 L1087.81 388.75 L1088.46 391.25 L1089.76 392.50 L1091.72 393.12 L1092.37 393.12 L1094.33 392.50 L1095.63 391.25 L1096.28 389.38 L1096.28 388.75 L1095.63 386.88 L1094.33 385.63 L1092.37 385.01 L1091.72 385.01 L1089.76 385.63 L1088.46 386.88 L1087.81 388.75M1104.11 380.02 L1102.15 380.64 L1100.85 382.52 L1100.20 385.63 L1100.20 387.51 L1100.85 390.62 L1102.15 392.50 L1104.11 393.12 L1105.41 393.12 L1107.37 392.50 L1108.67 390.62 L1109.32 387.51 L1109.32 385.63 L1108.67 382.52 L1107.37 380.64 L1105.41 380.02 L1104.11 380.02" fill="none" stroke="#000" stroke-width="1.3" stroke-linecap="round" stroke-linejoin="round"/>
<path d="M1096.28 337.65 L1089.76 350.75M1087.16 337.65 L1096.28 337.65M1108.02 337.65 L1101.50 337.65 L1100.85 343.26 L1101.50 342.64 L1103.46 342.02 L1105.41 342.02 L1107.37 342.64 L1108.67 343.89 L1109.32 345.76 L1109.32 347.01 L1108.67 348.88 L1107.37 350.13 L1105.41 350.75 L1103.46 350.75 L1101.50 350.13 L1100.85 349.50 L1100.20 348.25" fill="none" stroke="#000" stroke-width="1.3" stroke-linecap="round" stroke-linejoin="round"/>
<path d="M1095.63 299.65 L1094.98 301.52 L1093.68 302.77 L1091.72 303.39 L1091.07 303.39 L1089.11 302.77 L1087.81 301.52 L1087.16 299.65 L1087.16 299.02 L1087.81 297.15 L1089.11 295.90 L1091.07 295.28 L1091.72 295.28 L1093.68 295.90 L1094.98 297.15 L1095.63 299.65 L1095.63 302.77 L1094.98 305.88 L1093.68 307.76 L1091.72 308.38 L1090.42 308.38 L1088.46 307.76 L1087.81 306.51M1104.11 295.28 L1102.15 295.90 L1100.85 297.78 L1100.20 300.89 L1100.20 302.77 L1100.85 305.88 L1102.15 307.76 L1104.11 308.38 L1105.41 308.38 L1107.37 307.76 L1108.67 305.88 L1109.32 302.77 L1109.32 300.89 L1108.67 297.78 L1107.37 295.90 L1105.41 295.28 L1104.11 295.28" fill="none" stroke="#000" stroke-width="1.3" stroke-linecap="round" stroke-linejoin="round"/>
<path d="M1089.11 255.41 L1090.42 254.78 L1092.37 252.91 L1092.37 266.01M1104.11 252.91 L1102.15 253.53 L1100.85 255.41 L1100.20 258.52 L1100.20 260.40 L1100.85 263.51 L1102.15 265.39 L1104.11 266.01 L1105.41 266.01 L1107.37 265.39 L1108.67 263.51 L1109.32 260.40 L1109.32 258.52 L1108.67 255.41 L1107.37 253.53 L1105.41 252.91 L1104.11 252.91M1117.15 252.91 L1115.19 253.53 L1113.89 255.41 L1113.24 258.52 L1113.24 260.40 L1113.89 263.51 L1115.19 265.39 L1117.15 266.01 L1118.45 266.01 L1120.41 265.39 L1121.71 263.51 L1122.36 260.40 L1122.36 258.52 L1121.71 255.41 L1120.41 253.53 L1118.45 252.91 L1117.15 252.91" fill="none" stroke="#000" stroke-width="1.3" stroke-linecap="round" stroke-linejoin="round"/>
<path d="M1089.11 213.04 L1090.42 212.41 L1092.37 210.54 L1092.37 223.64M1100.85 213.66 L1100.85 213.04 L1101.50 211.79 L1102.15 211.16 L1103.46 210.54 L1106.06 210.54 L1107.37 211.16 L1108.02 211.79 L1108.67 213.04 L1108.67 214.28 L1108.02 215.53 L1106.72 217.40 L1100.20 223.64 L1109.32 223.64M1117.15 210.54 L1115.19 211.16 L1113.89 213.04 L1113.24 216.15 L1113.24 218.03 L1113.89 221.14 L1115.19 223.02 L1117.15 223.64 L1118.45 223.64 L1120.41 223.02 L1121.71 221.14 L1122.36 218.03 L1122.36 216.15 L1121.71 213.04 L1120.41 211.16 L1118.45 210.54 L1117.15 210.54" fill="none" stroke="#000" stroke-width="1.3" stroke-linecap="round" stroke-linejoin="round"/>
<path d="M1089.11 170.67 L1090.42 170.04 L1092.37 168.17 L1092.37 181.27M1108.02 168.17 L1101.50 168.17 L1100.85 173.78 L1101.50 173.16 L1103.46 172.54 L1105.41 172.54 L1107.37 173.16 L1108.67 174.41 L1109.32 176.28 L1109.32 177.53 L1108.67 179.40 L1107.37 180.65 L1105.41 181.27 L1103.46 181.27 L1101.50 180.65 L1100.85 180.02 L1100.20 178.77M1117.15 168.17 L1115.19 168.79 L1113.89 170.67 L1113.24 173.78 L1113.24 175.66 L1113.89 178.77 L1115.19 180.65 L1117.15 181.27 L1118.45 181.27 L1120.41 180.65 L1121.71 178.77 L1122.36 175.66 L1122.36 173.78 L1121.71 170.67 L1120.41 168.79 L1118.45 168.17 L1117.15 168.17" fill="none" stroke="#000" stroke-width="1.3" stroke-linecap="round" stroke-linejoin="round"/>
<path d="M1087.81 128.92 L1087.81 128.30 L1088.46 127.05 L1089.11 126.42 L1090.42 125.80 L1093.02 125.80 L1094.33 126.42 L1094.98 127.05 L1095.63 128.30 L1095.63 129.54 L1094.98 130.79 L1093.68 132.66 L1087.16 138.90 L1096.28 138.90M1104.11 125.80 L1102.15 126.42 L1100.85 128.30 L1100.20 131.41 L1100.20 133.29 L1100.85 136.40 L1102.15 138.28 L1104.11 138.90 L1105.41 138.90 L1107.37 138.28 L1108.67 136.40 L1109.32 133.29 L1109.32 131.41 L1108.67 128.30 L1107.37 126.42 L1105.41 125.80 L1104.11 125.80M1117.15 125.80 L1115.19 126.42 L1113.89 128.30 L1113.24 131.41 L1113.24 133.29 L1113.89 136.40 L1115.19 138.28 L1117.15 138.90 L1118.45 138.90 L1120.41 138.28 L1121.71 136.40 L1122.36 133.29 L1122.36 131.41 L1121.71 128.30 L1120.41 126.42 L1118.45 125.80 L1117.15 125.80" fill="none" stroke="#000" stroke-width="1.3" stroke-linecap="round" stroke-linejoin="round"/>
<path d="M134.58 8.08 L134.58 29.45M142.33 8.08 L142.33 29.45M142.33 8.08 L150.07 29.45M157.81 8.08 L150.07 29.45M157.81 8.08 L157.81 29.45M165.56 8.08 L165.56 29.45M165.56 8.08 L179.11 29.45M179.11 8.08 L179.11 29.45M202.34 4.01 L184.92 36.57M220.74 11.13 L218.80 9.10 L215.90 8.08 L212.02 8.08 L209.12 9.10 L207.18 11.13 L207.18 13.17 L208.15 15.20 L209.12 16.22 L211.06 17.24 L216.86 19.27 L218.80 20.29 L219.77 21.31 L220.74 23.34 L220.74 26.40 L218.80 28.43 L215.90 29.45 L212.02 29.45 L209.12 28.43 L207.18 26.40M232.35 8.08 L224.61 29.45M232.35 8.08 L240.10 29.45M227.51 22.33 L237.19 22.33M244.94 8.08 L244.94 29.45M244.94 8.08 L253.65 8.08 L256.55 9.10 L257.52 10.12 L258.49 12.15 L258.49 14.19 L257.52 16.22 L256.55 17.24 L253.65 18.26 L244.94 18.26M251.71 18.26 L258.49 29.45M270.10 8.08 L262.36 29.45M270.10 8.08 L277.85 29.45M265.26 22.33 L274.94 22.33M282.69 8.08 L282.69 29.45M282.69 8.08 L291.40 8.08 L294.30 9.10 L295.27 10.12 L296.24 12.15 L296.24 15.20 L295.27 17.24 L294.30 18.26 L291.40 19.27 L282.69 19.27M303.01 8.08 L303.01 29.45M315.60 8.08 L313.66 9.10 L311.73 11.13 L310.76 13.17 L309.79 16.22 L309.79 21.31 L310.76 24.36 L311.73 26.40 L313.66 28.43 L315.60 29.45 L319.47 29.45 L321.41 28.43 L323.34 26.40 L324.31 24.36 L325.28 21.31 L325.28 16.22 L324.31 13.17 L323.34 11.13 L321.41 9.10 L319.47 8.08 L315.60 8.08M318.50 25.38 L324.31 31.49M332.06 8.08 L332.06 23.34 L333.02 26.40 L334.96 28.43 L337.86 29.45 L339.80 29.45 L342.70 28.43 L344.64 26.40 L345.61 23.34 L345.61 8.08M353.35 8.08 L353.35 29.45M356.25 36.57 L372.71 36.57M387.23 8.08 L377.55 8.08 L376.58 17.24 L377.55 16.22 L380.46 15.20 L383.36 15.20 L386.26 16.22 L388.20 18.26 L389.17 21.31 L389.17 23.34 L388.20 26.40 L386.26 28.43 L383.36 29.45 L380.46 29.45 L377.55 28.43 L376.58 27.41 L375.62 25.38" fill="none" stroke="#000" stroke-width="1.5" stroke-linecap="round" stroke-linejoin="round"/>
<path d="M412.07 8.08 L412.07 29.45M412.07 8.08 L420.78 8.08 L423.69 9.10 L424.66 10.12 L425.62 12.15 L425.62 15.20 L424.66 17.24 L423.69 18.26 L420.78 19.27 L412.07 19.27M432.40 15.20 L432.40 29.45M432.40 21.31 L433.37 18.26 L435.30 16.22 L437.24 15.20 L440.14 15.20M444.02 21.31 L455.63 21.31 L455.63 19.27 L454.66 17.24 L453.70 16.22 L451.76 15.20 L448.86 15.20 L446.92 16.22 L444.98 18.26 L444.02 21.31 L444.02 23.34 L444.98 26.40 L446.92 28.43 L448.86 29.45 L451.76 29.45 L453.70 28.43 L455.63 26.40M473.06 18.26 L471.12 16.22 L469.18 15.20 L466.28 15.20 L464.34 16.22 L462.41 18.26 L461.44 21.31 L461.44 23.34 L462.41 26.40 L464.34 28.43 L466.28 29.45 L469.18 29.45 L471.12 28.43 L473.06 26.40M478.86 8.08 L479.83 9.10 L480.80 8.08 L479.83 7.06 L478.86 8.08M479.83 15.20 L479.83 29.45M487.58 15.20 L487.58 36.57M487.58 18.26 L489.51 16.22 L491.45 15.20 L494.35 15.20 L496.29 16.22 L498.22 18.26 L499.19 21.31 L499.19 23.34 L498.22 26.40 L496.29 28.43 L494.35 29.45 L491.45 29.45 L489.51 28.43 L487.58 26.40M505.00 8.08 L505.97 9.10 L506.94 8.08 L505.97 7.06 L505.00 8.08M505.97 15.20 L505.97 29.45M514.68 8.08 L514.68 25.38 L515.65 28.43 L517.58 29.45 L519.52 29.45M511.78 15.20 L518.55 15.20M535.98 15.20 L535.98 29.45M535.98 18.26 L534.04 16.22 L532.10 15.20 L529.20 15.20 L527.26 16.22 L525.33 18.26 L524.36 21.31 L524.36 23.34 L525.33 26.40 L527.26 28.43 L529.20 29.45 L532.10 29.45 L534.04 28.43 L535.98 26.40M554.37 18.26 L552.43 16.22 L550.50 15.20 L547.59 15.20 L545.66 16.22 L543.72 18.26 L542.75 21.31 L542.75 23.34 L543.72 26.40 L545.66 28.43 L547.59 29.45 L550.50 29.45 L552.43 28.43 L554.37 26.40M560.18 8.08 L561.14 9.10 L562.11 8.08 L561.14 7.06 L560.18 8.08M561.14 15.20 L561.14 29.45M572.76 15.20 L570.82 16.22 L568.89 18.26 L567.92 21.31 L567.92 23.34 L568.89 26.40 L570.82 28.43 L572.76 29.45 L575.66 29.45 L577.60 28.43 L579.54 26.40 L580.50 23.34 L580.50 21.31 L579.54 18.26 L577.60 16.22 L575.66 15.20 L572.76 15.20M587.28 15.20 L587.28 29.45M587.28 19.27 L590.18 16.22 L592.12 15.20 L595.02 15.20 L596.96 16.22 L597.93 19.27 L597.93 29.45" fill="none" stroke="#000" stroke-width="1.5" stroke-linecap="round" stroke-linejoin="round"/>
<path d="M626.74 8.08 L619.00 29.45M626.74 8.08 L634.49 29.45M621.90 22.33 L631.58 22.33M649.97 18.26 L648.04 16.22 L646.10 15.20 L643.20 15.20 L641.26 16.22 L639.33 18.26 L638.36 21.31 L638.36 23.34 L639.33 26.40 L641.26 28.43 L643.20 29.45 L646.10 29.45 L648.04 28.43 L649.97 26.40M656.75 15.20 L656.75 25.38 L657.72 28.43 L659.65 29.45 L662.56 29.45 L664.49 28.43 L667.40 25.38M667.40 15.20 L667.40 29.45M675.14 15.20 L675.14 29.45M675.14 19.27 L678.05 16.22 L679.98 15.20 L682.89 15.20 L684.82 16.22 L685.79 19.27 L685.79 29.45M685.79 19.27 L688.69 16.22 L690.63 15.20 L693.53 15.20 L695.47 16.22 L696.44 19.27 L696.44 29.45M704.18 15.20 L704.18 25.38 L705.15 28.43 L707.09 29.45 L709.99 29.45 L711.93 28.43 L714.83 25.38M714.83 15.20 L714.83 29.45M722.57 8.08 L722.57 29.45M740.97 15.20 L740.97 29.45M740.97 18.26 L739.03 16.22 L737.09 15.20 L734.19 15.20 L732.25 16.22 L730.32 18.26 L729.35 21.31 L729.35 23.34 L730.32 26.40 L732.25 28.43 L734.19 29.45 L737.09 29.45 L739.03 28.43 L740.97 26.40M759.36 8.08 L759.36 29.45M759.36 18.26 L757.42 16.22 L755.49 15.20 L752.58 15.20 L750.65 16.22 L748.71 18.26 L747.74 21.31 L747.74 23.34 L748.71 26.40 L750.65 28.43 L752.58 29.45 L755.49 29.45 L757.42 28.43 L759.36 26.40M777.75 15.20 L777.75 29.45M777.75 18.26 L775.81 16.22 L773.88 15.20 L770.97 15.20 L769.04 16.22 L767.10 18.26 L766.13 21.31 L766.13 23.34 L767.10 26.40 L769.04 28.43 L770.97 29.45 L773.88 29.45 L775.81 28.43 L777.75 26.40" fill="none" stroke="#000" stroke-width="1.5" stroke-linecap="round" stroke-linejoin="round"/>
<path d="M799.61 21.31 L811.22 21.31 L811.22 19.27 L810.25 17.24 L809.28 16.22 L807.35 15.20 L804.45 15.20 L802.51 16.22 L800.57 18.26 L799.61 21.31 L799.61 23.34 L800.57 26.40 L802.51 28.43 L804.45 29.45 L807.35 29.45 L809.28 28.43 L811.22 26.40M818.00 15.20 L818.00 29.45M818.00 19.27 L820.90 16.22 L822.84 15.20 L825.74 15.20 L827.68 16.22 L828.64 19.27 L828.64 29.45" fill="none" stroke="#000" stroke-width="1.5" stroke-linecap="round" stroke-linejoin="round"/>
<path d="M863.57 11.13 L862.61 9.10 L859.70 8.08 L857.77 8.08 L854.86 9.10 L852.93 12.15 L851.96 17.24 L851.96 22.33 L852.93 26.40 L854.86 28.43 L857.77 29.45 L858.73 29.45 L861.64 28.43 L863.57 26.40 L864.54 23.34 L864.54 22.33 L863.57 19.27 L861.64 17.24 L858.73 16.22 L857.77 16.22 L854.86 17.24 L852.93 19.27 L851.96 22.33" fill="none" stroke="#000" stroke-width="1.5" stroke-linecap="round" stroke-linejoin="round"/>
<path d="M888.53 8.08 L888.53 29.45M888.53 19.27 L891.43 16.22 L893.37 15.20 L896.27 15.20 L898.21 16.22 L899.18 19.27 L899.18 29.45M910.79 15.20 L908.86 16.22 L906.92 18.26 L905.95 21.31 L905.95 23.34 L906.92 26.40 L908.86 28.43 L910.79 29.45 L913.70 29.45 L915.63 28.43 L917.57 26.40 L918.54 23.34 L918.54 21.31 L917.57 18.26 L915.63 16.22 L913.70 15.20 L910.79 15.20M925.31 15.20 L925.31 29.45M925.31 21.31 L926.28 18.26 L928.22 16.22 L930.15 15.20 L933.06 15.20M948.55 15.20 L948.55 29.45M948.55 18.26 L946.61 16.22 L944.67 15.20 L941.77 15.20 L939.83 16.22 L937.90 18.26 L936.93 21.31 L936.93 23.34 L937.90 26.40 L939.83 28.43 L941.77 29.45 L944.67 29.45 L946.61 28.43 L948.55 26.40M965.97 18.26 L965.00 16.22 L962.10 15.20 L959.19 15.20 L956.29 16.22 L955.32 18.26 L956.29 20.29 L958.23 21.31 L963.07 22.33 L965.00 23.34 L965.97 25.38 L965.97 26.40 L965.00 28.43 L962.10 29.45 L959.19 29.45 L956.29 28.43 L955.32 26.40" fill="none" stroke="#000" stroke-width="1.5" stroke-linecap="round" stroke-linejoin="round"/>
<path d="M995.06 4.01 L993.12 6.04 L991.18 9.10 L989.25 13.17 L988.28 18.26 L988.28 22.33 L989.25 27.41 L991.18 31.49 L993.12 34.54 L995.06 36.57M1001.83 15.20 L1001.83 29.45M1001.83 19.27 L1004.74 16.22 L1006.67 15.20 L1009.58 15.20 L1011.51 16.22 L1012.48 19.27 L1012.48 29.45M1012.48 19.27 L1015.38 16.22 L1017.32 15.20 L1020.22 15.20 L1022.16 16.22 L1023.13 19.27 L1023.13 29.45M1030.87 15.20 L1030.87 29.45M1030.87 19.27 L1033.78 16.22 L1035.71 15.20 L1038.62 15.20 L1040.55 16.22 L1041.52 19.27 L1041.52 29.45M1041.52 19.27 L1044.42 16.22 L1046.36 15.20 L1049.26 15.20 L1051.20 16.22 L1052.17 19.27 L1052.17 29.45M1058.94 4.01 L1060.88 6.04 L1062.82 9.10 L1064.75 13.17 L1065.72 18.26 L1065.72 22.33 L1064.75 27.41 L1062.82 31.49 L1060.88 34.54 L1058.94 36.57" fill="none" stroke="#000" stroke-width="1.5" stroke-linecap="round" stroke-linejoin="round"/>
<path d="M464.26 45.20 L464.26 44.19 L465.22 42.17 L466.18 41.16 L468.09 40.15 L471.92 40.15 L473.83 41.16 L474.79 42.17 L475.75 44.19 L475.75 46.21 L474.79 48.23 L472.87 51.25 L463.30 61.35 L476.70 61.35M488.19 40.15 L485.31 41.16 L483.40 44.19 L482.44 49.24 L482.44 52.26 L483.40 57.31 L485.31 60.34 L488.19 61.35 L490.10 61.35 L492.97 60.34 L494.88 57.31 L495.84 52.26 L495.84 49.24 L494.88 44.19 L492.97 41.16 L490.10 40.15 L488.19 40.15M502.54 45.20 L502.54 44.19 L503.50 42.17 L504.45 41.16 L506.37 40.15 L510.20 40.15 L512.11 41.16 L513.07 42.17 L514.02 44.19 L514.02 46.21 L513.07 48.23 L511.15 51.25 L501.58 61.35 L514.98 61.35M533.16 43.18 L532.21 41.16 L529.34 40.15 L527.42 40.15 L524.55 41.16 L522.64 44.19 L521.68 49.24 L521.68 54.28 L522.64 58.32 L524.55 60.34 L527.42 61.35 L528.38 61.35 L531.25 60.34 L533.16 58.32 L534.12 55.29 L534.12 54.28 L533.16 51.25 L531.25 49.24 L528.38 48.23 L527.42 48.23 L524.55 49.24 L522.64 51.25 L521.68 54.28M540.82 52.26 L558.05 52.26M570.49 40.15 L567.62 41.16 L565.70 44.19 L564.75 49.24 L564.75 52.26 L565.70 57.31 L567.62 60.34 L570.49 61.35 L572.40 61.35 L575.27 60.34 L577.19 57.31 L578.14 52.26 L578.14 49.24 L577.19 44.19 L575.27 41.16 L572.40 40.15 L570.49 40.15M593.46 40.15 L583.89 54.28 L598.24 54.28M593.46 40.15 L593.46 61.35M603.98 52.26 L621.21 52.26M630.78 44.19 L632.69 43.18 L635.56 40.15 L635.56 61.35M660.45 40.15 L650.88 61.35M647.05 40.15 L660.45 40.15" fill="none" stroke="#000" stroke-width="1.5" stroke-linecap="round" stroke-linejoin="round"/>
<path d="M686.60 44.19 L688.51 43.18 L691.38 40.15 L691.38 61.35M703.82 45.20 L703.82 44.19 L704.78 42.17 L705.74 41.16 L707.65 40.15 L711.48 40.15 L713.39 41.16 L714.35 42.17 L715.31 44.19 L715.31 46.21 L714.35 48.23 L712.44 51.25 L702.87 61.35 L716.26 61.35M735.40 40.15 L722.01 61.35M722.01 40.15 L735.40 40.15M722.01 61.35 L735.40 61.35" fill="none" stroke="#000" stroke-width="1.5" stroke-linecap="round" stroke-linejoin="round"/>
<path d="M330.83 860.55 L330.83 875.95M337.39 865.68 L337.39 875.95M337.39 868.62 L339.86 866.42 L341.50 865.68 L343.95 865.68 L345.60 866.42 L346.42 868.62 L346.42 875.95M361.18 867.88 L360.36 866.42 L357.89 865.68 L355.44 865.68 L352.98 866.42 L352.16 867.88 L352.98 869.35 L354.62 870.08 L358.72 870.82 L360.36 871.55 L361.18 873.02 L361.18 873.75 L360.36 875.22 L357.89 875.95 L355.44 875.95 L352.98 875.22 L352.16 873.75M367.74 860.55 L367.74 873.02 L368.56 875.22 L370.19 875.95 L371.83 875.95M365.27 865.68 L371.01 865.68M375.94 860.55 L376.75 861.28 L377.57 860.55 L376.75 859.82 L375.94 860.55M376.75 865.68 L376.75 875.95M384.13 860.55 L384.13 873.02 L384.95 875.22 L386.60 875.95 L388.24 875.95M381.68 865.68 L387.42 865.68M393.15 865.68 L393.15 873.02 L393.98 875.22 L395.62 875.95 L398.07 875.95 L399.72 875.22 L402.18 873.02M402.18 865.68 L402.18 875.95M409.56 860.55 L409.56 873.02 L410.38 875.22 L412.01 875.95 L413.65 875.95M407.10 865.68 L412.84 865.68M421.86 865.68 L420.22 866.42 L418.57 867.88 L417.75 870.08 L417.75 871.55 L418.57 873.75 L420.22 875.22 L421.86 875.95 L424.31 875.95 L425.95 875.22 L427.60 873.75 L428.42 871.55 L428.42 870.08 L427.60 867.88 L425.95 866.42 L424.31 865.68 L421.86 865.68" fill="none" stroke="#000" stroke-width="1.1" stroke-linecap="round" stroke-linejoin="round"/>
<path d="M447.63 860.55 L447.63 875.95M447.63 860.55 L454.19 875.95M460.75 860.55 L454.19 875.95M460.75 860.55 L460.75 875.95M466.49 870.08 L476.33 870.08 L476.33 868.62 L475.51 867.15 L474.69 866.42 L473.05 865.68 L470.59 865.68 L468.95 866.42 L467.31 867.88 L466.49 870.08 L466.49 871.55 L467.31 873.75 L468.95 875.22 L470.59 875.95 L473.05 875.95 L474.69 875.22 L476.33 873.75M482.89 860.55 L482.89 873.02 L483.71 875.22 L485.35 875.95 L486.99 875.95M480.43 865.68 L486.17 865.68M491.09 870.08 L500.93 870.08 L500.93 868.62 L500.11 867.15 L499.29 866.42 L497.65 865.68 L495.19 865.68 L493.55 866.42 L491.91 867.88 L491.09 870.08 L491.09 871.55 L491.91 873.75 L493.55 875.22 L495.19 875.95 L497.65 875.95 L499.29 875.22 L500.93 873.75M509.95 865.68 L508.31 866.42 L506.67 867.88 L505.85 870.08 L505.85 871.55 L506.67 873.75 L508.31 875.22 L509.95 875.95 L512.41 875.95 L514.05 875.22 L515.69 873.75 L516.51 871.55 L516.51 870.08 L515.69 867.88 L514.05 866.42 L512.41 865.68 L509.95 865.68M522.25 865.68 L522.25 875.95M522.25 870.08 L523.07 867.88 L524.71 866.42 L526.35 865.68 L528.81 865.68M536.19 865.68 L534.55 866.42 L532.91 867.88 L532.09 870.08 L532.09 871.55 L532.91 873.75 L534.55 875.22 L536.19 875.95 L538.65 875.95 L540.29 875.22 L541.93 873.75 L542.75 871.55 L542.75 870.08 L541.93 867.88 L540.29 866.42 L538.65 865.68 L536.19 865.68M548.49 860.55 L548.49 875.95M558.33 865.68 L556.69 866.42 L555.05 867.88 L554.23 870.08 L554.23 871.55 L555.05 873.75 L556.69 875.22 L558.33 875.95 L560.79 875.95 L562.43 875.22 L564.07 873.75 L564.89 871.55 L564.89 870.08 L564.07 867.88 L562.43 866.42 L560.79 865.68 L558.33 865.68M579.65 865.68 L579.65 877.42 L578.83 879.62 L578.01 880.35 L576.37 881.08 L573.91 881.08 L572.27 880.35M579.65 867.88 L578.01 866.42 L576.37 865.68 L573.91 865.68 L572.27 866.42 L570.63 867.88 L569.81 870.08 L569.81 871.55 L570.63 873.75 L572.27 875.22 L573.91 875.95 L576.37 875.95 L578.01 875.22 L579.65 873.75M585.39 860.55 L586.21 861.28 L587.03 860.55 L586.21 859.82 L585.39 860.55M586.21 865.68 L586.21 875.95M601.79 867.88 L600.15 866.42 L598.51 865.68 L596.05 865.68 L594.41 866.42 L592.77 867.88 L591.95 870.08 L591.95 871.55 L592.77 873.75 L594.41 875.22 L596.05 875.95 L598.51 875.95 L600.15 875.22 L601.79 873.75M610.81 865.68 L609.17 866.42 L607.53 867.88 L606.71 870.08 L606.71 871.55 L607.53 873.75 L609.17 875.22 L610.81 875.95 L613.27 875.95 L614.91 875.22 L616.55 873.75 L617.37 871.55 L617.37 870.08 L616.55 867.88 L614.91 866.42 L613.27 865.68 L610.81 865.68" fill="none" stroke="#000" stroke-width="1.1" stroke-linecap="round" stroke-linejoin="round"/>
<path d="M638.53 860.55 L638.53 875.95M638.53 860.55 L650.01 875.95M650.01 860.55 L650.01 875.95M665.60 865.68 L665.60 875.95M665.60 867.88 L663.96 866.42 L662.31 865.68 L659.86 865.68 L658.22 866.42 L656.58 867.88 L655.75 870.08 L655.75 871.55 L656.58 873.75 L658.22 875.22 L659.86 875.95 L662.31 875.95 L663.96 875.22 L665.60 873.75M681.17 867.88 L679.53 866.42 L677.89 865.68 L675.43 865.68 L673.79 866.42 L672.15 867.88 L671.34 870.08 L671.34 871.55 L672.15 873.75 L673.79 875.22 L675.43 875.95 L677.89 875.95 L679.53 875.22 L681.17 873.75M686.10 860.55 L686.91 861.28 L687.74 860.55 L686.91 859.82 L686.10 860.55M686.91 865.68 L686.91 875.95M696.75 865.68 L695.12 866.42 L693.48 867.88 L692.65 870.08 L692.65 871.55 L693.48 873.75 L695.12 875.22 L696.75 875.95 L699.22 875.95 L700.86 875.22 L702.50 873.75 L703.32 871.55 L703.32 870.08 L702.50 867.88 L700.86 866.42 L699.22 865.68 L696.75 865.68M709.05 865.68 L709.05 875.95M709.05 868.62 L711.51 866.42 L713.15 865.68 L715.62 865.68 L717.25 866.42 L718.08 868.62 L718.08 875.95M733.65 865.68 L733.65 875.95M733.65 867.88 L732.01 866.42 L730.38 865.68 L727.91 865.68 L726.27 866.42 L724.63 867.88 L723.81 870.08 L723.81 871.55 L724.63 873.75 L726.27 875.22 L727.91 875.95 L730.38 875.95 L732.01 875.22 L733.65 873.75M740.22 860.55 L740.22 875.95" fill="none" stroke="#000" stroke-width="1.1" stroke-linecap="round" stroke-linejoin="round"/>
<path d="M772.84 864.22 L772.02 862.75 L770.38 861.28 L768.74 860.55 L765.46 860.55 L763.82 861.28 L762.18 862.75 L761.36 864.22 L760.54 866.42 L760.54 870.08 L761.36 872.28 L762.18 873.75 L763.82 875.22 L765.46 875.95 L768.74 875.95 L770.38 875.22 L772.02 873.75 L772.84 872.28M781.86 865.68 L780.22 866.42 L778.58 867.88 L777.76 870.08 L777.76 871.55 L778.58 873.75 L780.22 875.22 L781.86 875.95 L784.32 875.95 L785.96 875.22 L787.60 873.75 L788.42 871.55 L788.42 870.08 L787.60 867.88 L785.96 866.42 L784.32 865.68 L781.86 865.68M802.36 867.88 L801.54 866.42 L799.08 865.68 L796.62 865.68 L794.16 866.42 L793.34 867.88 L794.16 869.35 L795.80 870.08 L799.90 870.82 L801.54 871.55 L802.36 873.02 L802.36 873.75 L801.54 875.22 L799.08 875.95 L796.62 875.95 L794.16 875.22 L793.34 873.75M808.92 860.55 L808.92 873.02 L809.74 875.22 L811.38 875.95 L813.02 875.95M806.46 865.68 L812.20 865.68M826.96 865.68 L826.96 875.95M826.96 867.88 L825.32 866.42 L823.68 865.68 L821.22 865.68 L819.58 866.42 L817.94 867.88 L817.12 870.08 L817.12 871.55 L817.94 873.75 L819.58 875.22 L821.22 875.95 L823.68 875.95 L825.32 875.22 L826.96 873.75" fill="none" stroke="#000" stroke-width="1.1" stroke-linecap="round" stroke-linejoin="round"/>
<path d="M848.10 860.55 L848.10 875.95M848.10 860.55 L855.48 860.55 L857.94 861.28 L858.76 862.02 L859.58 863.48 L859.58 864.95 L858.76 866.42 L857.94 867.15 L855.48 867.88 L848.10 867.88M853.84 867.88 L859.58 875.95M864.50 860.55 L865.32 861.28 L866.14 860.55 L865.32 859.82 L864.50 860.55M865.32 865.68 L865.32 875.95M880.90 867.88 L879.26 866.42 L877.62 865.68 L875.16 865.68 L873.52 866.42 L871.88 867.88 L871.06 870.08 L871.06 871.55 L871.88 873.75 L873.52 875.22 L875.16 875.95 L877.62 875.95 L879.26 875.22 L880.90 873.75M895.66 865.68 L895.66 875.95M895.66 867.88 L894.02 866.42 L892.38 865.68 L889.92 865.68 L888.28 866.42 L886.64 867.88 L885.82 870.08 L885.82 871.55 L886.64 873.75 L888.28 875.22 L889.92 875.95 L892.38 875.95 L894.02 875.22 L895.66 873.75" fill="none" stroke="#000" stroke-width="1.1" stroke-linecap="round" stroke-linejoin="round"/>
</svg></body></html>
